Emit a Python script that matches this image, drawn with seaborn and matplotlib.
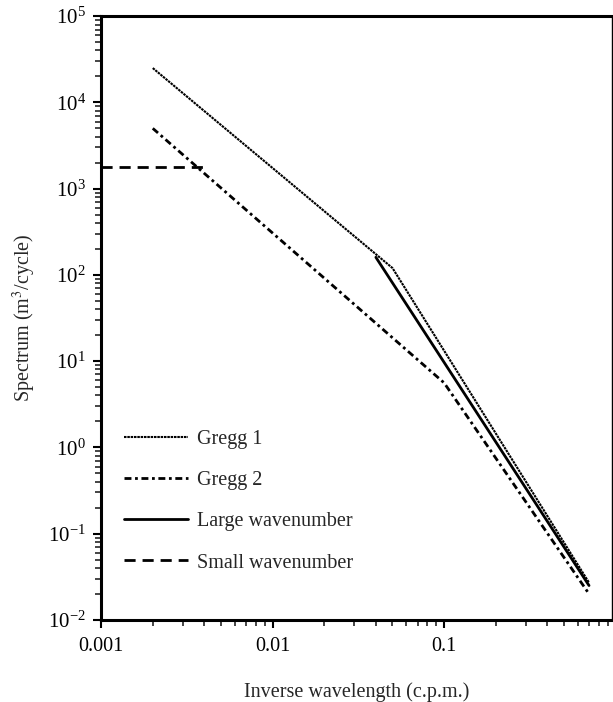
import numpy as np
import pandas as pd
import matplotlib
matplotlib.use('Agg')
import matplotlib.pyplot as plt
import seaborn as sns

## values
gregg1_x = [0.002, 0.05, 0.7]
gregg1_y = [25000, 120, 0.027]
gregg2_x = [0.002, 0.1, 0.7]
gregg2_y = [5000, 5.6, 0.020]
large_x = [0.04, 0.7]
large_y = [160, 0.025]
small_x = [0.001, 0.004]
small_y = [1800, 1800]

series_names = ['Gregg 1', 'Gregg 2', 'Large wavenumber', 'Small wavenumber']
x_ticks = [0.001, 0.01, 0.1]
x_ticklabels = ['0.001', '0.01', '0.1']

sns.set_style('ticks')
plt.rcParams['font.family'] = ['Liberation Serif', 'DejaVu Serif']
plt.rcParams['mathtext.fontset'] = 'stix'

fig = plt.figure(figsize=(6.13, 7.02), dpi=100)
ax = fig.add_axes([0.165, 0.117, 0.833, 0.86])

df1 = pd.DataFrame({'x': gregg1_x, 'y': gregg1_y})
df2 = pd.DataFrame({'x': gregg2_x, 'y': gregg2_y})
df3 = pd.DataFrame({'x': large_x, 'y': large_y})
df4 = pd.DataFrame({'x': small_x, 'y': small_y})

sns.lineplot(data=df1, x='x', y='y', ax=ax, color='black', lw=1.5,
             linestyle=(0, (1.2, 0.4)), label=series_names[0], sort=False)
sns.lineplot(data=df2, x='x', y='y', ax=ax, color='black', lw=2.0,
             linestyle=(0, (2.5, 1.3, 1, 1.3)), label=series_names[1], sort=False)
sns.lineplot(data=df3, x='x', y='y', ax=ax, color='black', lw=2.0,
             linestyle='-', label=series_names[2], sort=False)
sns.lineplot(data=df4, x='x', y='y', ax=ax, color='black', lw=2.0,
             linestyle=(0, (4, 2.5)), label=series_names[3], sort=False)

ax.set_xscale('log')
ax.set_yscale('log')
ax.set_xlim(0.001, 0.95)
ax.set_ylim(1e-2, 1e5)
ax.set_xticks(x_ticks)
ax.set_xticklabels(x_ticklabels)
ax.set_yticks([10.0**k for k in range(-2, 6)])

ax.tick_params(axis='both', which='major', direction='out', length=6, width=1.5,
               labelsize=14.5, colors='black', pad=6)
ax.tick_params(axis='both', which='minor', direction='out', length=4, width=1.2)
ax.tick_params(axis='y', which='major', labelsize=15, pad=5)

for side in ['left', 'bottom', 'top']:
    ax.spines[side].set_linewidth(2.2)
ax.spines['right'].set_linewidth(1.0)
for s in ax.spines.values():
    s.set_color('black')

ax.set_xlabel('Inverse wavelength (c.p.m.)', fontsize=14.5, labelpad=19)
ax.set_ylabel('Spectrum (m$^3$/cycle)', fontsize=14.5, labelpad=7)

leg = ax.legend(loc='upper left', bbox_to_anchor=(0.045, 0.315), frameon=False,
                fontsize=14.5, handlelength=3.15, handletextpad=0.45,
                labelspacing=1.1, borderpad=0, borderaxespad=0)

fig.savefig('out.png', dpi=100)
